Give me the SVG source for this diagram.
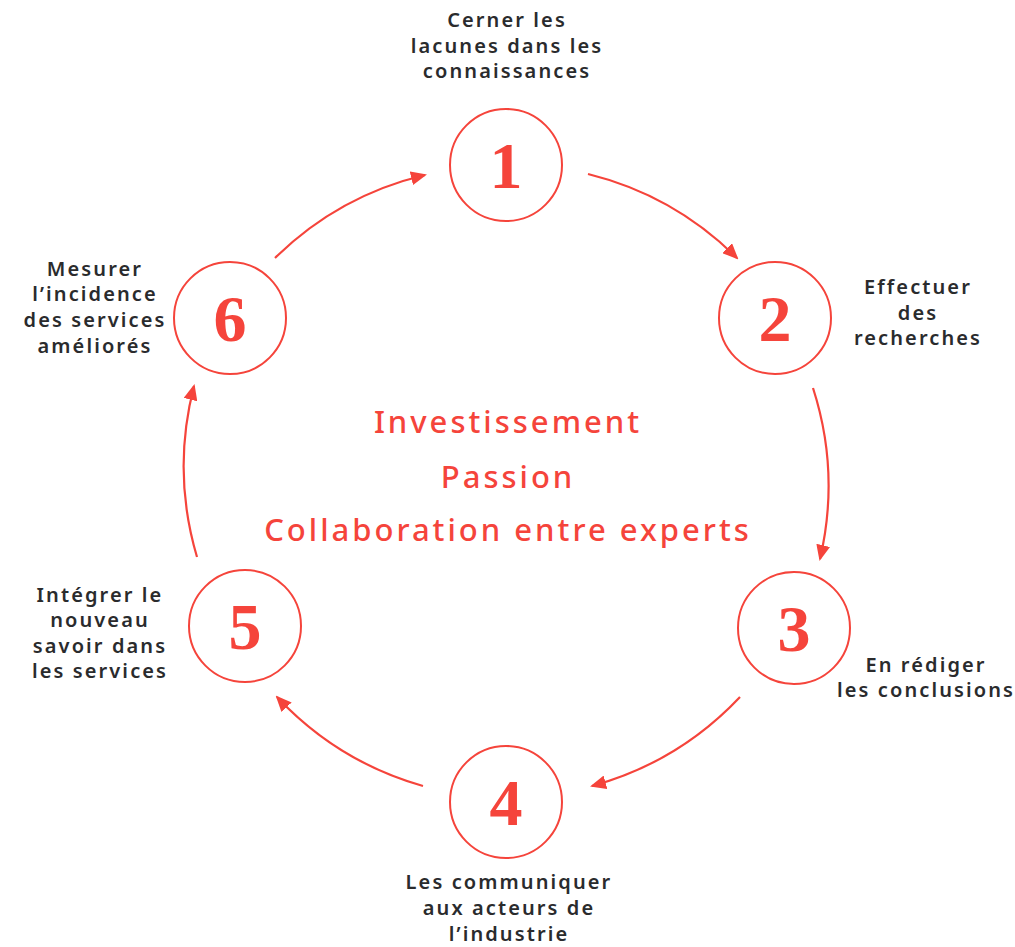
<svg xmlns="http://www.w3.org/2000/svg" width="1015" height="947" viewBox="0 0 1015 947">
<style>
.node circle{fill:#fff;stroke:#f5443b;stroke-width:2}
.num{font-family:"Liberation Serif","DejaVu Serif",serif;font-weight:bold;font-size:66px;fill:#f5443b;text-anchor:middle}
.lbl{font-family:"Noto Sans","DejaVu Sans",sans-serif;font-weight:600;font-size:20px;letter-spacing:2.1px;fill:#2a2b2d;text-anchor:middle}
.ctr{font-family:"Noto Sans","DejaVu Sans",sans-serif;font-weight:500;font-size:31px;letter-spacing:3px;fill:#f5443b;text-anchor:middle}
.conn path{fill:none;stroke:#f5443b;stroke-width:2.2;marker-end:url(#ah)}
</style>
<defs>
<marker id="ah" viewBox="0 0 16 14" refX="14" refY="7" markerWidth="16" markerHeight="14" markerUnits="userSpaceOnUse" orient="auto">
<path d="M0,0 L16,7 L0,14 Z" fill="#f5443b"/>
</marker>
</defs>
<rect width="1015" height="947" fill="#fff"/>
<g id="connectors" class="conn">
<path d="M588,174 A320,320 0 0 1 737,258"/>
<path d="M813,388 A320,320 0 0 1 820,559"/>
<path d="M740,697 A320,320 0 0 1 592,786"/>
<path d="M423,786 A320,320 0 0 1 277,697"/>
<path d="M197,557 A320,320 0 0 1 194,386"/>
<path d="M275,258 A320,320 0 0 1 425,175"/>
</g>
<g id="node1" class="node">
<circle cx="506" cy="165" r="56"/>
<text class="num" x="506" y="188">1</text>
<text class="lbl" x="507" y="27">Cerner les</text>
<text class="lbl" x="507" y="53">lacunes dans les</text>
<text class="lbl" x="507" y="78">connaissances</text>
</g>
<g id="node2" class="node">
<circle cx="775" cy="318" r="56"/>
<text class="num" x="775" y="341">2</text>
<text class="lbl" x="918" y="294">Effectuer</text>
<text class="lbl" x="918" y="320">des</text>
<text class="lbl" x="918" y="345">recherches</text>
</g>
<g id="node3" class="node">
<circle cx="794" cy="628" r="56"/>
<text class="num" x="794" y="651">3</text>
<text class="lbl" x="926" y="672">En rédiger</text>
<text class="lbl" x="926" y="697">les conclusions</text>
</g>
<g id="node4" class="node">
<circle cx="506" cy="802" r="56"/>
<text class="num" x="506" y="825">4</text>
<text class="lbl" x="509" y="889">Les communiquer</text>
<text class="lbl" x="509" y="915">aux acteurs de</text>
<text class="lbl" x="509" y="941">l’industrie</text>
</g>
<g id="node5" class="node">
<circle cx="245" cy="626" r="56"/>
<text class="num" x="245" y="649">5</text>
<text class="lbl" x="100" y="602">Intégrer le</text>
<text class="lbl" x="100" y="627">nouveau</text>
<text class="lbl" x="100" y="653">savoir dans</text>
<text class="lbl" x="100" y="678">les services</text>
</g>
<g id="node6" class="node">
<circle cx="230" cy="318" r="56"/>
<text class="num" x="230" y="341">6</text>
<text class="lbl" x="95" y="276">Mesurer</text>
<text class="lbl" x="95" y="301">l’incidence</text>
<text class="lbl" x="95" y="327">des services</text>
<text class="lbl" x="95" y="353">améliorés</text>
</g>
<g id="center">
<text class="ctr" x="508" y="433">Investissement</text>
<text class="ctr" x="508" y="488">Passion</text>
<text class="ctr" x="508" y="541">Collaboration entre experts</text>
</g>
</svg>
